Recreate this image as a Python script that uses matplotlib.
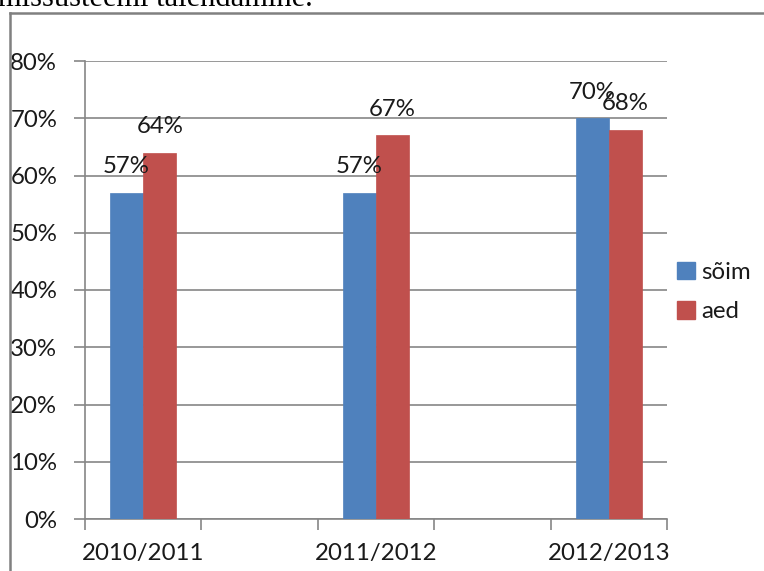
import matplotlib
matplotlib.use("Agg")
import matplotlib.pyplot as plt
from matplotlib.lines import Line2D

categories = ["2010/2011", "", "2011/2012", "", "2012/2013"]
series_names = ["sõim", "aed"]
soim = [0.57, None, 0.57, None, 0.70]
aed = [0.64, None, 0.67, None, 0.68]
yticks = [0, 0.1, 0.2, 0.3, 0.4, 0.5, 0.6, 0.7, 0.8]
ytick_labels = ["0%", "10%", "20%", "30%", "40%", "50%", "60%", "70%", "80%"]

FONT = ["Lato", "DejaVu Sans"]
plt.rcParams["font.family"] = FONT

W, H = 764, 571
fig = plt.figure(figsize=(W / 100, H / 100), dpi=100)
ax = fig.add_axes([85 / W, 1 - 519 / H, (667 - 85) / W, (519 - 61) / H])

colors = ["#4F81BD", "#C0504D"]
bw = 0.286
fs = 17.3
tc = "#1a1a1a"

for si, (vals, col, name) in enumerate(zip([soim, aed], colors, series_names)):
    xs = [i for i, v in enumerate(vals) if v is not None]
    vs = [v for v in vals if v is not None]
    off = (si - 0.5) * bw
    ax.bar([x + off for x in xs], vs, width=bw, color=col, label=name,
           edgecolor=col, linewidth=0.5, zorder=3)
    for x, v in zip(xs, vs):
        ax.annotate(f"{round(v * 100)}%", (x + off, v), xytext=(0, 11),
                    textcoords="offset points", ha="center", va="bottom",
                    fontsize=fs, color=tc, zorder=5)

ax.set_xlim(-0.5, 4.5)
ax.set_ylim(0, 0.8)
ax.set_yticks(yticks)
ax.set_yticklabels(ytick_labels, fontsize=fs, color=tc)
ax.set_xticks(range(len(categories)))
ax.set_xticklabels(categories, fontsize=fs, color=tc)
ax.set_xticks([i - 0.5 for i in range(len(categories) + 1)], minor=True)
ax.tick_params(axis="x", which="major", length=0, pad=17)
ax.tick_params(axis="x", which="minor", length=8, color="#868686", width=1.2)
ax.tick_params(axis="y", length=8, color="#868686", width=1.2, pad=12)

gridc = "#868686"
ax.grid(axis="y", color=gridc, linewidth=1.2, zorder=0)
for s in ["top", "right"]:
    ax.spines[s].set_visible(False)
ax.spines["left"].set_color(gridc)
ax.spines["bottom"].set_color(gridc)
ax.spines["left"].set_linewidth(1.2)
ax.spines["bottom"].set_linewidth(1.2)

handles = [plt.Rectangle((0, 0), 1, 1, color=c) for c in colors]
leg = fig.legend(handles, series_names, loc="center left",
                 bbox_to_anchor=(672 / W, 1 - 292 / H), frameon=False,
                 fontsize=fs, handlelength=0.75, handleheight=0.75,
                 handletextpad=0.25, labelspacing=0.75, labelcolor=tc,
                 borderaxespad=0, borderpad=0.2)

# document frame
fig.add_artist(Line2D([10 / W, 10 / W], [0, 1 - 13 / H], color="#808080",
                      linewidth=1.8, transform=fig.transFigure))
fig.add_artist(Line2D([10 / W, 1], [1 - 13 / H, 1 - 13 / H], color="#808080",
                      linewidth=1.8, transform=fig.transFigure))

# clipped document text above the chart (cut off in the reference too)
fig.text(-2 / W, 1 - 6 / H, "missüsteemi täiendamine.", fontsize=22,
         family=["Liberation Serif", "DejaVu Serif"], ha="left",
         va="baseline", color="black")

fig.savefig("out.png", dpi=100)
